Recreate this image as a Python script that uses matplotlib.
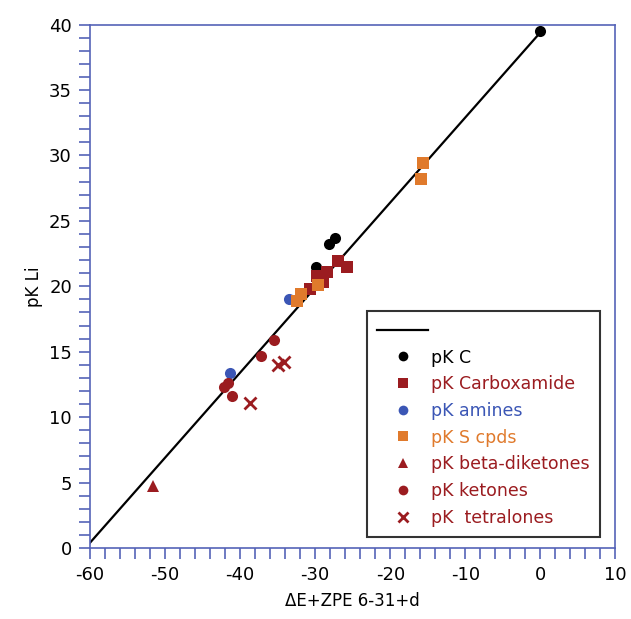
import numpy as np
import matplotlib.pyplot as plt
from matplotlib.lines import Line2D
from matplotlib.ticker import MultipleLocator

plt.rcParams['axes.unicode_minus'] = False

# fit line
fit_x = [-60, 0]
fit_y = [0.4, 39.4]

# series (x = dE+ZPE, y = pK Li)
c_x = [0.0, -27.3, -28.1, -29.9]
c_y = [39.5, 23.7, 23.2, 21.5]

carbox_x = [-26.9, -25.7, -28.4, -29.7, -28.9, -30.7]
carbox_y = [21.9, 21.5, 21.1, 20.8, 20.3, 19.8]

amine_x = [-33.5, -41.3]
amine_y = [19.0, 13.4]

s_x = [-29.6, -31.9, -32.4, -15.6, -15.9]
s_y = [20.1, 19.4, 18.9, 29.4, 28.2]

diket_x = [-51.6]
diket_y = [4.7]

ket_x = [-35.5, -37.2, -41.6, -42.1, -41.1]
ket_y = [15.9, 14.7, 12.6, 12.3, 11.6]

tetra_x = [-38.7, -34.9, -34.2]
tetra_y = [11.1, 14.0, 14.2]

RED = '#9b1c20'
BLUE = '#3b56b5'
ORANGE = '#e07a2c'
AXBLUE = '#5563b8'

fig = plt.figure(figsize=(6.31, 6.19), dpi=100)
ax = fig.add_axes([0.1426, 0.1147, 0.8328, 0.8457])

ax.plot(fit_x, fit_y, color='black', lw=1.6, zorder=2)

ms = 8
series = [
    (c_x, c_y, 'o', 'black', 'pK C'),
    (carbox_x, carbox_y, 's', RED, 'pK Carboxamide'),
    (amine_x, amine_y, 'o', BLUE, 'pK amines'),
    (s_x, s_y, 's', ORANGE, 'pK S cpds'),
    (diket_x, diket_y, '^', RED, 'pK beta-diketones'),
    (ket_x, ket_y, 'o', RED, 'pK ketones'),
    (tetra_x, tetra_y, 'x', RED, 'pK  tetralones'),
]
handles = [Line2D([], [], color='black', lw=1.6)]
labels = ['']
for xs, ys, m, col, lab in series:
    if m == 'x':
        ax.plot(xs, ys, ls='none', marker=m, color=col, ms=8, mew=2, zorder=3)
    else:
        ax.plot(xs, ys, ls='none', marker=m, color=col, ms=ms, mew=0, zorder=3)
    handles.append(Line2D([], [], ls='none', marker=m, color=col,
                          ms=7, mew=2 if m == 'x' else 0))
    labels.append(lab)

ax.set_xlim(-60, 10)
ax.set_ylim(0, 40)
ax.xaxis.set_major_locator(MultipleLocator(10))
ax.xaxis.set_minor_locator(MultipleLocator(2))
ax.yaxis.set_major_locator(MultipleLocator(5))
ax.yaxis.set_minor_locator(MultipleLocator(1))
ax.tick_params(which='both', direction='out', length=8, width=1.2,
               color=AXBLUE, labelsize=13, pad=5)
for sp in ax.spines.values():
    sp.set_color(AXBLUE)
    sp.set_linewidth(1.2)

ax.set_xlabel('ΔE+ZPE 6-31+d', fontsize=12, labelpad=6)
ax.set_ylabel('pK Li', fontsize=12, labelpad=4)

leg = ax.legend(handles, labels, loc='lower right',
                bbox_to_anchor=(0.971, 0.021), fontsize=12.5,
                frameon=True, fancybox=False, edgecolor='black',
                handlelength=2.9, handletextpad=0.2, labelspacing=0.5,
                borderpad=0.6, borderaxespad=0)
leg.get_frame().set_linewidth(1.5)
for txt, (xs, ys, m, col, lab) in zip(leg.get_texts()[1:], series):
    txt.set_color(col)

fig.savefig('out.png', dpi=100)
